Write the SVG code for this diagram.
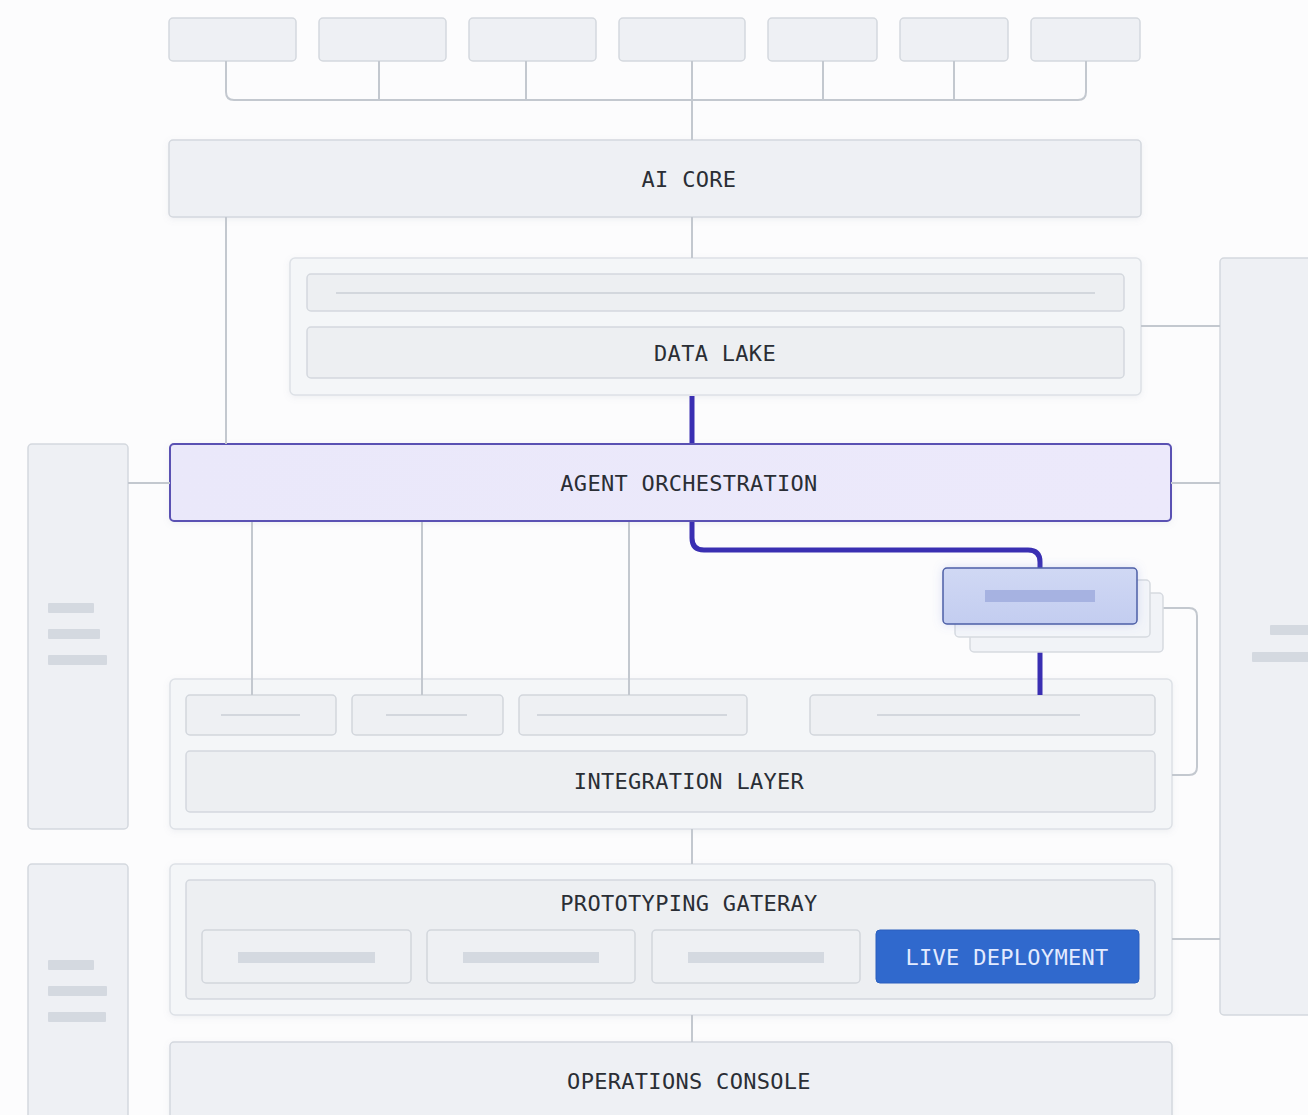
<svg xmlns="http://www.w3.org/2000/svg" width="1308" height="1115" viewBox="0 0 1308 1115">
<defs>
<style>
.box{fill:#eef0f4;stroke:#d4d8de;stroke-width:1.5}
.outer{fill:#f4f6f8;stroke:#dde1e6;stroke-width:1.5}
.inner{fill:#edeff2;stroke:#d4d8de;stroke-width:1.5}
.sub{fill:#eef0f3;stroke:#d2d6dc;stroke-width:1.5}
.ph{stroke:#d3d7dd;stroke-width:2;fill:none}
.bar{fill:#d4d9e0}
.conn{fill:none;stroke:#c3c8cf;stroke-width:2}
.hot{fill:none;stroke:#3a2fb2;stroke-width:5;stroke-linecap:butt}
.lbl{font-family:"DejaVu Sans Mono","Liberation Mono",monospace;font-size:22px;letter-spacing:0.3px;fill:#2a2e35;text-anchor:middle;dominant-baseline:central}
</style>
<linearGradient id="agentG" x1="0" y1="0" x2="1" y2="0">
<stop offset="0" stop-color="#eae8fa"/><stop offset="1" stop-color="#ece9fb"/>
</linearGradient>
<linearGradient id="cardG" x1="0" y1="0" x2="0" y2="1">
<stop offset="0" stop-color="#d0d8f4"/><stop offset="1" stop-color="#c3cdf0"/>
</linearGradient>
<filter id="sh" x="-10%" y="-20%" width="120%" height="150%">
<feDropShadow dx="0" dy="2" stdDeviation="3" flood-color="#8a93a6" flood-opacity="0.12"/>
</filter>
<filter id="glow" x="-20%" y="-40%" width="140%" height="180%">
<feDropShadow dx="0" dy="0" stdDeviation="5" flood-color="#6f82d8" flood-opacity="0.25"/>
</filter>
</defs>
<rect x="0" y="0" width="1308" height="1115" fill="#fcfcfd"/>

<g id="src1"><rect class="box" x="169" y="18" width="127" height="43" rx="4"/></g>
<g id="src2"><rect class="box" x="319" y="18" width="127" height="43" rx="4"/></g>
<g id="src3"><rect class="box" x="469" y="18" width="127" height="43" rx="4"/></g>
<g id="src4"><rect class="box" x="619" y="18" width="126" height="43" rx="4"/></g>
<g id="src5"><rect class="box" x="768" y="18" width="109" height="43" rx="4"/></g>
<g id="src6"><rect class="box" x="900" y="18" width="108" height="43" rx="4"/></g>
<g id="src7"><rect class="box" x="1031" y="18" width="109" height="43" rx="4"/></g>

<g id="ai-core">
<rect class="box" x="169" y="140" width="972" height="77" rx="4" filter="url(#sh)"/>
<text class="lbl" x="689" y="179">AI CORE</text>
</g>

<g id="data-lake">
<rect class="outer" x="290" y="258" width="851" height="137" rx="5" filter="url(#sh)"/>
<rect class="inner" x="307" y="274" width="817" height="37" rx="4"/>
<line class="ph" x1="336" y1="293" x2="1095" y2="293"/>
<rect class="inner" x="307" y="327" width="817" height="51" rx="4"/>
<text class="lbl" x="715" y="353">DATA LAKE</text>
</g>

<g id="right-panel">
<rect class="box" x="1220" y="258" width="110" height="757" rx="4"/>
<rect class="bar" x="1270" y="625" width="50" height="10" rx="1"/>
<rect class="bar" x="1252" y="652" width="70" height="10" rx="1"/>
</g>

<g id="left-panel-1">
<rect class="box" x="28" y="444" width="100" height="385" rx="4"/>
<rect class="bar" x="48" y="603" width="46" height="10" rx="1"/>
<rect class="bar" x="48" y="629" width="52" height="10" rx="1"/>
<rect class="bar" x="48" y="655" width="59" height="10" rx="1"/>
</g>

<g id="agent-orchestration">
<rect x="170" y="444" width="1001" height="77" rx="4" fill="url(#agentG)" stroke="#5a51b3" stroke-width="2" filter="url(#sh)"/>
<text class="lbl" x="689" y="483">AGENT ORCHESTRATION</text>
</g>

<g id="integration-layer">
<rect class="outer" x="170" y="679" width="1002" height="150" rx="5" filter="url(#sh)"/>
<rect class="sub" x="186" y="695" width="150" height="40" rx="4"/>
<line class="ph" x1="221" y1="715" x2="300" y2="715"/>
<rect class="sub" x="352" y="695" width="151" height="40" rx="4"/>
<line class="ph" x1="386" y1="715" x2="467" y2="715"/>
<rect class="sub" x="519" y="695" width="228" height="40" rx="4"/>
<line class="ph" x1="537" y1="715" x2="727" y2="715"/>
<rect class="sub" x="810" y="695" width="345" height="40" rx="4"/>
<line class="ph" x1="877" y1="715" x2="1080" y2="715"/>
<rect class="inner" x="186" y="751" width="969" height="61" rx="4"/>
<text class="lbl" x="689" y="781">INTEGRATION LAYER</text>
</g>

<g id="prototyping-gateway">
<rect class="outer" x="170" y="864" width="1002" height="151" rx="5" filter="url(#sh)"/>
<rect class="inner" x="186" y="880" width="969" height="119" rx="4"/>
<text class="lbl" x="689" y="903">PROTOTYPING GATERAY</text>
<rect class="sub" x="202" y="930" width="209" height="53" rx="4"/>
<rect class="bar" x="238" y="952" width="137" height="11"/>
<rect class="sub" x="427" y="930" width="208" height="53" rx="4"/>
<rect class="bar" x="463" y="952" width="136" height="11"/>
<rect class="sub" x="652" y="930" width="208" height="53" rx="4"/>
<rect class="bar" x="688" y="952" width="136" height="11"/>
</g>

<g id="live-deployment">
<rect x="876" y="930" width="263" height="53" rx="4" fill="#3069cd" stroke="#2a5fbe" stroke-width="1"/>
<text class="lbl" x="1007" y="957" style="fill:#e3ebff">LIVE DEPLOYMENT</text>
</g>

<g id="left-panel-2">
<rect class="box" x="28" y="864" width="100" height="280" rx="4"/>
<rect class="bar" x="48" y="960" width="46" height="10" rx="1"/>
<rect class="bar" x="48" y="986" width="59" height="10" rx="1"/>
<rect class="bar" x="48" y="1012" width="58" height="10" rx="1"/>
</g>

<g id="operations-console">
<rect class="box" x="170" y="1042" width="1002" height="100" rx="4" filter="url(#sh)"/>
<text class="lbl" x="689" y="1081">OPERATIONS CONSOLE</text>
</g>

<g id="connectors">
<path class="conn" d="M226 61 V92 Q226 100 234 100 H1078 Q1086 100 1086 92 V61"/>
<path class="conn" d="M379 61 V100 M526 61 V100 M692 61 V140 M823 61 V100 M954 61 V100"/>
<path class="conn" d="M226 217 V444 M692 217 V258"/>
<path class="conn" d="M1141 326 H1220"/>
<path class="conn" d="M128 483 H170 M1171 483 H1220"/>
<path class="conn" d="M252 522 V695 M422 522 V695 M629 522 V695"/>
<path class="conn" d="M1163 608 H1189 Q1197 608 1197 616 V767 Q1197 775 1189 775 H1172"/>
<path class="conn" d="M692 829 V864 M692 1015 V1042 M1172 939 H1220"/>
<path class="hot" d="M692 396 V443"/>
<path class="hot" d="M692 522 V538 Q692 550 704 550 H1028 Q1040 550 1040 562 V568"/>
<path class="hot" d="M1040 624 V695"/>
</g>

<g id="agent-stack">
<rect x="970" y="593" width="193" height="59" rx="4" fill="#f1f3f7" stroke="#d6dae0" stroke-width="1.5"/>
<rect x="955" y="580" width="195" height="57" rx="4" fill="#f3f5f9" stroke="#d6dae0" stroke-width="1.5"/>
<rect x="943" y="568" width="194" height="56" rx="4" fill="url(#cardG)" stroke="#4d5fa6" stroke-width="1.5" filter="url(#glow)"/>
<rect x="985" y="590" width="110" height="12" fill="#a6b2e1"/>
</g>
</svg>
